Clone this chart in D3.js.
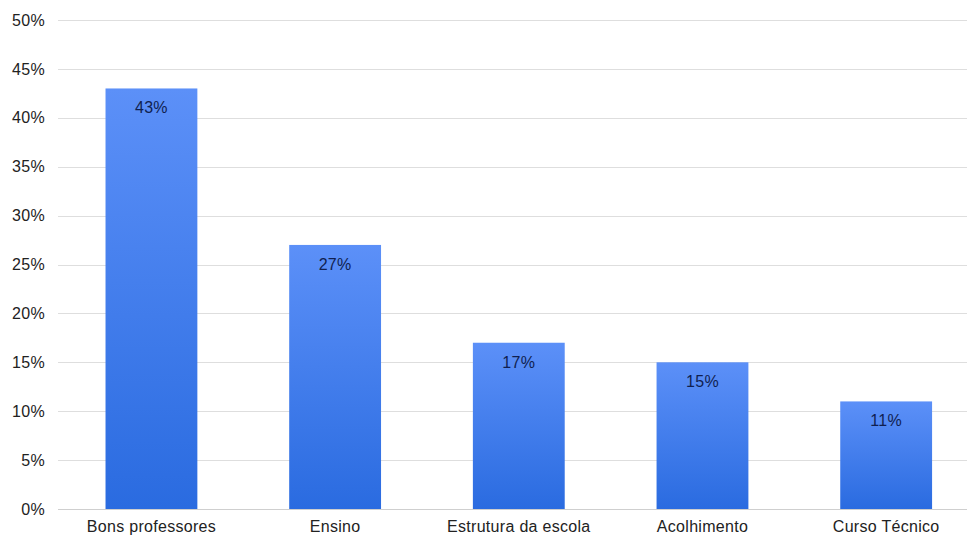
<!DOCTYPE html>
<html><head><meta charset="utf-8">
<script src="https://cdn.jsdelivr.net/npm/d3@7"></script>
<style>body{margin:0;background:#fff}svg{display:block}</style>
</head><body>
<svg id="c" width="967" height="538"></svg>
<script>
const categories = ["Bons professores","Ensino","Estrutura da escola","Acolhimento","Curso Técnico"];
const values = [43, 27, 17, 15, 11];
const yTicks = [0,5,10,15,20,25,30,35,40,45,50];

const svg = d3.select("#c");
const W = 967, H = 538;
const x0 = 59.6, x1 = 978, yTop = 20, yBot = 509;
const FONT = "Liberation Sans, Arial, sans-serif";
const x = d3.scaleBand().domain(categories).range([x0, x1]).paddingInner(0.5).paddingOuter(0.25);
const y = d3.scaleLinear().domain([0,50]).range([yBot, yTop]);

const defs = svg.append("defs");
const g = defs.append("linearGradient").attr("id","bg").attr("x1",0).attr("y1",0).attr("x2",0).attr("y2",1);
g.append("stop").attr("offset","0%").attr("stop-color","#5c90f8");
g.append("stop").attr("offset","100%").attr("stop-color","#2a6be0");

// gridlines
svg.append("g").selectAll("line").data(yTicks).join("line")
  .attr("x1",58).attr("x2",W).attr("y1",d=>Math.round(y(d))+0.5).attr("y2",d=>Math.round(y(d))+0.5)
  .attr("stroke",d=>d===0?"#cfcfcf":"#dedede").attr("stroke-width",1);

// y axis labels
const yAxis = d3.axisLeft(y).tickValues(yTicks).tickFormat(d=>d+"%").tickSize(0).tickPadding(0);
const ya = svg.append("g").attr("transform","translate(45,0)").call(yAxis);
ya.select(".domain").remove();
ya.selectAll("text").attr("font-family",FONT).attr("font-size",16).attr("letter-spacing","0.3px").attr("fill","#222");

// bars
svg.append("g").selectAll("rect").data(values).join("rect")
  .attr("x",(d,i)=>x(categories[i])).attr("width",x.bandwidth())
  .attr("y",d=>y(d)).attr("height",d=>yBot-y(d)).attr("fill","url(#bg)");

// value labels
svg.append("g").selectAll("text").data(values).join("text")
  .attr("x",(d,i)=>x(categories[i])+x.bandwidth()/2).attr("y",d=>y(d)+25)
  .attr("text-anchor","middle").attr("font-family",FONT)
  .attr("font-size",16).attr("letter-spacing","0.3px").attr("fill","#101f50").text(d=>d+"%");

// x axis labels
const xAxis = d3.axisBottom(x).tickSize(0).tickPadding(0);
const xa = svg.append("g").attr("transform",`translate(0,${yBot+12})`).call(xAxis);
xa.select(".domain").remove();
xa.selectAll("text").attr("font-family",FONT).attr("font-size",16).attr("letter-spacing","0.3px").attr("fill","#222").attr("dy","0.71em");
</script>
</body></html>
